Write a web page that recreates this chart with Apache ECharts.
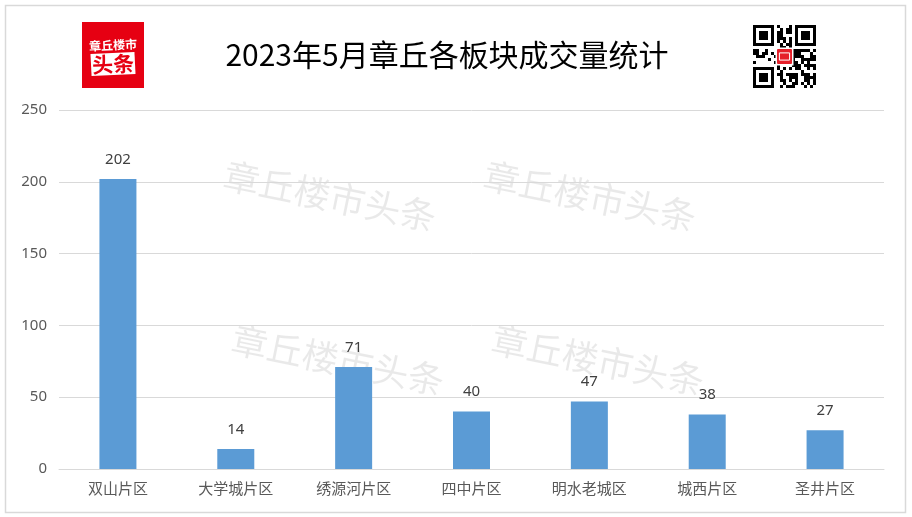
<!DOCTYPE html>
<html><head><meta charset="utf-8">
<script src="https://cdn.jsdelivr.net/npm/echarts@6/dist/echarts.min.js"></script>
<style>html,body{margin:0;padding:0;background:#fff;}#c{width:912px;height:517px;}</style>
</head><body><div id="c"></div>
<script>
var categories = ['双山片区','大学城片区','绣源河片区','四中片区','明水老城区','城西片区','圣井片区'];
var values = [202, 14, 71, 40, 47, 38, 27];
var yTicks = [0, 50, 100, 150, 200, 250];
var titleText = '2023年5月章丘各板块成交量统计';
var watermarkText = '章丘楼市头条';

var chart = echarts.init(document.getElementById('c'), null, {renderer:'canvas'});
var FONT = '"Noto Sans CJK SC","Noto Sans",sans-serif';

// pseudo QR pattern (decorative)
function qrModules(){
  var n = 21, els = [], s = 3, x0 = 753, y0 = 25;
  function finder(cx, cy){
    els.push({type:'rect',shape:{x:x0+cx*s,y:y0+cy*s,width:7*s,height:7*s},style:{fill:'#000'}});
    els.push({type:'rect',shape:{x:x0+(cx+1)*s,y:y0+(cy+1)*s,width:5*s,height:5*s},style:{fill:'#fff'}});
    els.push({type:'rect',shape:{x:x0+(cx+2)*s,y:y0+(cy+2)*s,width:3*s,height:3*s},style:{fill:'#000'}});
  }
  for (var r=0;r<n;r++) for (var c=0;c<n;c++){
    var inF = (r<8&&c<8)||(r<8&&c>=n-8)||(r>=n-8&&c<8);
    if (inF) continue;
    var h = Math.sin(r*12.9898 + c*78.233)*43758.5453; h = h - Math.floor(h);
    if (h < 0.55) els.push({type:'rect',shape:{x:x0+c*s,y:y0+r*s,width:s,height:s},style:{fill:'#000'}});
  }
  finder(0,0); finder(n-7,0); finder(0,n-7);
  els.push({type:'rect',shape:{x:x0+7.5*s,y:y0+7.5*s,width:6*s,height:6*s},style:{fill:'#fff'}});
  els.push({type:'rect',shape:{x:x0+8*s,y:y0+8*s,width:5*s,height:5*s,r:1},style:{fill:'#e5202a'}});
  els.push({type:'rect',shape:{x:x0+8.8*s,y:y0+9.3*s,width:3.4*s,height:2.4*s},style:{fill:'none',stroke:'#fff',lineWidth:1}});
  return els;
}

var wmPos = [[330,196],[590,196],[338,360],[598,360]];
var graphics = [
  {type:'rect', shape:{x:5.5,y:5.5,width:900,height:507}, style:{fill:'none',stroke:'#d9d9d9',lineWidth:1.5}, z:-1},
  {type:'rect', shape:{x:82,y:22,width:62,height:66}, style:{fill:'#e60012'}},
  {type:'text', x:113, y:45, rotation:0.05, style:{text:'章丘楼市', fill:'#fff', font:'bold 12px '+FONT, textAlign:'center', textVerticalAlign:'middle'}},
  {type:'polygon', rotation:0.05, originX:113, originY:64, shape:{points:[[91,53],[135,53],[135,75],[91,75]]}, style:{fill:'#fff'}},
  {type:'text', x:113, y:64, rotation:0.05, style:{text:'头条', fill:'#e60012', font:'bold 21px '+FONT, textAlign:'center', textVerticalAlign:'middle'}},
  {type:'text', x:447, y:55, style:{text:titleText, fill:'#000', font:'30px '+FONT, textAlign:'center', textVerticalAlign:'middle'}}
].concat(qrModules());
wmPos.forEach(function(p){
  graphics.push({type:'text', x:p[0], y:p[1], rotation:-0.2, z:-1, silent:true,
    style:{text:watermarkText, fill:'rgba(0,0,0,0.085)', font:'36px '+FONT, textAlign:'center', textVerticalAlign:'middle'}});
});

chart.setOption({
  animation:false,
  grid:{left:59, right:28, top:110, bottom:48, containLabel:false},
  xAxis:{type:'category', data:categories,
    axisLine:{show:true, lineStyle:{color:'#d9d9d9', width:1}}, axisTick:{show:false},
    axisLabel:{color:'#595959', fontSize:15, margin:12, fontFamily:FONT}},
  yAxis:{type:'value', min:yTicks[0], max:yTicks[yTicks.length-1], interval:50,
    axisLine:{show:false}, axisTick:{show:false},
    splitLine:{lineStyle:{color:'#d9d9d9', width:1}},
    axisLabel:{color:'#595959', fontSize:15, margin:12, fontFamily:'"Noto Sans",sans-serif'}},
  series:[{type:'bar', data:values, barWidth:37, itemStyle:{color:'#5b9bd5'},
    label:{show:true, position:'top', distance:12, color:'#404040', fontSize:15, fontFamily:'"Noto Sans",sans-serif'}}],
  graphic:graphics
});
</script></body></html>
